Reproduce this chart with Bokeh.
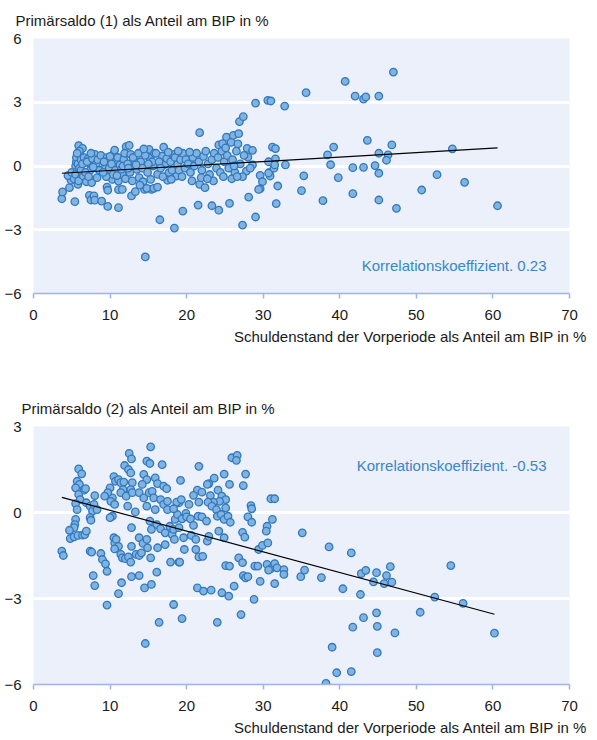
from bokeh.plotting import figure
from bokeh.layouts import column
from bokeh.models import Range1d, FixedTicker, Label, ColumnDataSource, Title
from bokeh.embed import file_html
from bokeh.resources import INLINE

# ---------------- data ----------------
x_ticks = [0, 10, 20, 30, 40, 50, 60, 70]
y_ticks_top = [-6, -3, 0, 3, 6]
y_ticks_bottom = [-6, -3, 0, 3]

title_top = "Primärsaldo (1) als Anteil am BIP in %"
title_bottom = "Primärsaldo (2) als Anteil am BIP in %"
x_title = "Schuldenstand der Vorperiode als Anteil am BIP in %"
corr_top = "Korrelationskoeffizient. 0.23"
corr_bottom = "Korrelationskoeffizient. -0.53"

# Panel 1: debt (x) vs primary balance (1)
debt_top = [
    3.7, 3.8, 4.7, 4.9, 4.5, 5.0, 5.4, 5.8, 5.5, 5.6,
    5.7, 5.9, 6.1, 6.4, 5.3, 5.5, 5.6, 5.8, 6.0, 6.2,
    6.3, 5.9, 6.5, 6.6, 6.0, 5.7, 6.2, 6.4, 7.1, 7.4,
    8.0, 7.4, 6.9, 7.6, 8.3, 7.3, 7.5, 7.9, 8.0, 8.9,
    7.0, 7.7, 8.2, 8.6, 6.8, 7.2, 8.4, 7.8, 8.8, 7.5,
    9.6, 9.7, 9.7, 11.1, 11.1, 11.6, 9.6, 10.5, 9.4, 9.8,
    10.3, 11.1, 11.6, 10.8, 12.1, 12.5, 9.2, 9.9, 10.2, 10.0,
    10.7, 11.0, 11.3, 11.5, 11.8, 10.4, 9.5, 10.9, 12.0, 11.9,
    10.6, 9.1, 11.7, 12.8, 13.3, 14.5, 15.4, 14.6, 12.7, 13.2,
    13.5, 13.8, 14.3, 15.1, 15.2, 15.6, 14.8, 15.7, 15.3, 12.3,
    12.6, 13.0, 13.7, 14.0, 14.2, 14.6, 14.9, 15.5, 12.9, 13.9,
    14.4, 15.8, 12.4, 13.4, 15.0, 16.2, 16.5, 18.4, 19.5, 17.0,
    16.8, 17.2, 17.7, 17.5, 18.3, 18.8, 18.7, 18.0, 16.2, 16.4,
    16.6, 17.4, 17.9, 18.1, 18.5, 19.0, 19.2, 19.5, 19.8, 16.9,
    17.6, 18.9, 19.4, 19.9, 16.0, 21.5, 21.7, 22.4, 23.3, 24.2,
    21.7, 24.2, 24.7, 20.2, 20.5, 20.8, 21.0, 21.3, 21.6, 22.0,
    22.2, 22.5, 22.8, 23.0, 23.3, 23.6, 23.9, 24.1, 24.4, 24.6,
    24.9, 20.4, 21.9, 23.5, 20.7, 22.7, 24.8, 25.6, 27.3, 28.1,
    29.0, 25.2, 25.8, 26.1, 26.7, 26.8, 26.9, 27.4, 27.9, 28.6,
    28.0, 28.6, 27.8, 27.3, 25.3, 25.5, 26.0, 26.3, 26.5, 27.0,
    25.9, 26.6, 27.5, 25.1, 28.3, 26.2, 29.0, 30.6, 31.0, 32.8,
    31.2, 31.6, 31.6, 30.7, 32.9, 29.6, 30.8, 29.9, 29.6, 31.9,
    31.7, 29.4, 30.9, 30.7, 31.4, 31.5, 35.6, 40.7, 42.0, 43.1,
    43.4, 45.1, 47.0, 43.6, 39.2, 38.4, 38.8, 41.7, 43.1, 44.6,
    45.1, 46.3, 46.1, 46.8, 45.1, 54.7, 35.3, 39.8, 52.7, 56.3,
    35.0, 37.8, 41.7, 45.1, 47.4, 50.7, 60.6,
]
balance_top = [
    -1.54, -1.22, -1.02, -0.67, -0.45, -0.30, -1.68, -0.86, 0.00, 0.20,
    -0.24, 0.96, 0.55, 0.83, -0.60, -0.40, 0.40, 0.10, -0.10, 0.30,
    -0.50, -0.70, -0.47, 0.39, 0.70, 0.60, -0.20, 0.10, 0.32, 0.08,
    0.55, -0.20, -0.74, -0.78, -0.55, -1.38, -1.60, -1.41, -1.61, -1.65,
    0.20, 0.35, 0.10, -0.20, -0.30, -0.50, 0.30, -0.05, 0.50, 0.60,
    -0.99, -1.14, -1.90, -1.11, -1.96, -1.10, 0.39, 0.58, 0.00, -0.39,
    -0.63, -0.71, -0.39, 0.24, 0.91, 0.97, 0.20, -0.10, 0.10, 0.45,
    -0.20, 0.40, 0.05, -0.15, 0.30, -0.40, -0.50, -0.45, -0.60, 0.60,
    0.75, -0.30, 0.00, -1.41, -1.21, -1.10, -1.10, -4.28, 0.55, 0.24,
    -0.16, -0.55, -0.74, 0.78, 0.39, 0.00, -1.05, -1.05, -0.63, 0.10,
    -0.30, 0.40, 0.60, 0.20, -0.10, 0.50, -0.30, 0.20, -0.70, -0.90,
    0.80, 0.60, -0.10, 0.05, 0.10, -0.99, -2.53, -2.92, -2.12, 0.89,
    0.47, 0.08, -0.31, -0.67, 0.55, 0.08, -0.47, -0.63, -0.39, 0.20,
    -0.10, 0.35, 0.20, -0.20, 0.40, -0.20, 0.30, 0.60, -0.10, -0.50,
    0.65, 0.70, -0.50, 0.30, 0.60, -1.84, -0.86, -1.02, -1.87, -2.08,
    1.57, 0.99, 1.05, 0.10, -0.30, 0.40, 0.00, 0.60, 0.20, -0.20,
    0.45, 0.70, 0.10, -0.40, 0.30, 0.60, -0.10, 0.40, -0.30, 0.70,
    0.20, 0.65, -0.55, -0.70, -0.70, -0.60, -0.50, -1.76, -2.78, -1.46,
    -2.40, 1.36, 1.11, 1.44, 1.04, 1.52, 2.09, 2.32, 0.83, 0.74,
    0.42, 0.05, -0.24, -0.50, 0.50, -0.10, 0.30, -0.30, 0.70, 0.10,
    -0.60, -0.50, 0.50, 0.85, -0.10, 0.00, 2.96, 3.09, 3.06, 2.82,
    0.89, 0.82, 0.34, 0.20, 0.05, -0.44, -0.31, -0.74, -1.07, -0.94,
    -1.77, -1.10, -0.47, -0.33, -0.10, 0.05, 3.45, 3.98, 3.29, 3.15,
    3.25, 3.29, 4.42, 1.21, 0.89, 0.52, 0.06, -0.08, -0.06, 0.02,
    0.60, 0.52, 0.27, 0.99, -0.34, 0.81, -0.46, -0.55, -0.41, -0.77,
    -1.16, -1.63, -1.30, -1.60, -1.99, -1.13, -1.87,
]

# Panel 2: debt (x) vs primary balance (2)
debt_bottom = [
    5.9, 6.3, 5.7, 6.0, 5.5, 6.6, 6.8, 5.9, 6.1, 5.5,
    5.7, 6.9, 7.4, 7.7, 7.9, 8.0, 8.3, 7.4, 7.5, 5.5,
    5.4, 5.3, 4.7, 4.8, 5.3, 5.8, 6.4, 6.7, 6.9, 3.7,
    3.9, 7.4, 7.6, 7.8, 8.0, 8.8, 9.0, 9.4, 9.6, 10.3,
    10.5, 10.7, 11.1, 10.0, 9.7, 9.3, 10.1, 10.6, 10.3, 10.0,
    11.4, 11.8, 11.7, 11.4, 12.1, 11.9, 12.5, 12.8, 12.4, 12.7,
    12.9, 12.3, 12.7, 12.9, 13.3, 12.8, 10.5, 10.6, 10.8, 11.1,
    10.6, 11.4, 11.6, 12.0, 12.4, 12.7, 12.8, 13.8, 13.4, 13.8,
    14.1, 14.3, 14.8, 15.3, 12.8, 11.5, 11.1, 13.8, 14.5, 15.4,
    16.1, 17.9, 19.0, 15.3, 14.8, 15.2, 16.8, 14.4, 14.8, 15.9,
    16.2, 17.0, 17.4, 14.2, 13.8, 14.4, 15.1, 15.5, 15.7, 14.8,
    15.9, 16.6, 17.0, 17.5, 17.5, 15.2, 16.1, 15.4, 16.6, 17.2,
    17.8, 18.1, 18.5, 18.8, 18.4, 17.2, 16.2, 14.9, 19.0, 18.7,
    25.9, 26.6, 26.5, 21.6, 27.7, 24.9, 23.6, 22.9, 22.7, 25.6,
    27.4, 19.2, 21.4, 22.0, 24.1, 23.1, 24.6, 25.1, 24.3, 23.5,
    22.8, 21.6, 20.9, 19.3, 20.3, 18.3, 23.3, 23.9, 25.1, 28.4,
    28.5, 31.0, 31.5, 19.9, 19.4, 20.0, 20.5, 20.9, 21.5, 22.0,
    22.6, 24.0, 24.5, 24.9, 25.4, 25.7, 28.0, 28.5, 31.2, 30.5,
    30.4, 24.2, 27.3, 27.6, 24.9, 18.3, 19.0, 19.6, 20.6, 21.2,
    22.7, 22.9, 19.7, 21.2, 21.6, 22.1, 19.1, 29.4, 29.9, 30.6,
    26.8, 27.3, 25.1, 25.6, 28.9, 29.3, 30.5, 31.0, 31.5, 31.8,
    30.7, 32.7, 32.7, 34.9, 35.4, 35.1, 27.4, 27.7, 28.0, 29.6,
    31.5, 26.2, 21.4, 22.2, 23.2, 24.6, 25.5, 28.8, 9.6, 16.4,
    18.3, 19.4, 14.6, 24.0, 27.1, 38.6, 41.5, 37.6, 42.8, 43.4,
    44.8, 46.1, 46.6, 44.4, 45.8, 46.8, 40.4, 42.7, 52.4, 54.5,
    56.1, 50.5, 44.8, 43.1, 41.7, 44.9, 47.2, 60.2, 39.0, 44.9,
    39.6, 41.5, 38.2,
]
balance_bottom = [
    1.52, 1.35, 1.09, 0.98, 0.86, 0.78, 0.83, 0.63, 0.45, 0.31,
    0.10, 0.34, 0.22, 0.05, 0.28, 0.59, 0.10, -0.18, -0.27, -0.24,
    -0.42, -0.53, -0.62, -0.91, -0.85, -0.80, -0.79, -0.77, -0.65, -1.35,
    -1.50, -1.35, -1.38, -2.20, -2.55, -1.43, -1.64, -1.79, -2.05, 0.51,
    1.25, 1.09, 1.15, 0.86, 0.69, 0.57, 0.39, 0.28, -0.13, -0.18,
    1.04, 1.06, 0.80, 0.69, 0.57, 1.64, 2.06, 1.87, 1.50, 1.38,
    1.04, 0.22, 0.80, 0.69, 0.02, -0.53, -0.88, -1.06, -0.94, -1.18,
    -1.27, -1.46, -1.58, -1.61, -1.55, -1.73, -1.18, -0.88, -1.46, -1.50,
    -1.41, -1.08, -0.94, -1.58, -2.24, -2.45, -2.83, -2.20, -2.63, -2.51,
    -2.08, -1.73, -1.73, 2.29, 1.79, 1.71, 1.67, 1.33, 1.15, 1.21,
    1.01, 0.92, 0.83, 0.98, 0.69, 0.51, 0.69, 0.74, 0.51, 0.22,
    0.10, 0.45, 0.28, 0.10, 0.39, -0.30, -0.42, -0.59, -0.57, -0.71,
    -0.48, -0.77, -0.24, -0.07, -0.94, -1.12, -1.23, -1.23, 0.34, 0.36,
    1.91, 1.99, 1.82, 1.61, 1.34, 1.34, 1.20, 1.01, 0.98, 0.98,
    0.94, 1.12, 0.78, 0.71, 0.78, 0.59, 0.57, 0.45, 0.39, 0.36,
    0.36, 0.36, 0.60, 0.45, 0.28, 0.13, 0.22, 0.10, 0.16, 0.24,
    0.13, 0.48, 0.48, -0.03, -0.22, -0.15, -0.22, -0.45, -0.13, -0.15,
    -0.30, -0.13, -0.07, -0.24, -0.13, -0.34, -0.15, -0.34, -0.24, -0.48,
    -0.65, -0.65, -0.69, -0.86, -0.88, -0.59, -0.53, -0.88, -0.80, -0.94,
    -1.00, -0.83, -1.29, -1.29, -1.55, -1.53, -1.73, -1.29, -1.15, -1.06,
    -1.58, -1.75, -1.85, -1.87, -1.87, -1.87, -1.81, -1.96, -1.78, -1.93,
    -2.01, -1.99, -2.16, -2.24, -2.01, -0.71, -2.20, -2.28, -2.24, -2.40,
    -2.48, -2.57, -2.63, -2.74, -2.71, -2.80, -2.92, -3.03, -3.23, -3.83,
    -3.21, -3.70, -4.57, -3.83, -3.56, -1.20, -1.41, -2.27, -2.13, -2.02,
    -2.10, -2.20, -1.89, -2.42, -2.48, -2.43, -2.66, -2.86, -2.95, -1.85,
    -3.17, -3.48, -3.50, -3.67, -4.00, -3.97, -4.20, -4.21, -4.70, -4.89,
    -5.59, -5.55, -5.96,
]

# fitted regression lines (end points)
fit_x_top = [3.7, 60.6]
fit_y_top = [-0.34, 0.85]
fit_x_bottom = [3.7, 60.2]
fit_y_bottom = [0.53, -3.55]

# ---------------- style ----------------
FONT = "Liberation Sans"
FS = "15px"
BG = "#ebf0fa"
AXIS_BLUE = "#9fb4e4"
PT_FILL = "#82b2df"
PT_LINE = "#2f79bf"
CORR_COLOR = "#3a86c6"
TEXT = "#1a1a1a"


def panel(xs, ys, fx, fy, ymin, ymax, yticks, gridticks, title, title_offset,
          title_standoff, xlab_standoff, corr, corr_y, height, border_top, frame_h):
    p = figure(width=594, height=height, output_backend="svg", toolbar_location=None,
               x_range=Range1d(0, 70), y_range=Range1d(ymin, ymax),
               min_border_left=33, min_border_right=25,
               min_border_top=border_top,
               min_border_bottom=height - border_top - frame_h)
    p.background_fill_color = BG
    p.border_fill_color = "white"
    p.outline_line_color = None

    p.title.text = title
    p.title.align = "left"
    p.title.offset = title_offset
    p.title.standoff = title_standoff
    p.title.text_font = FONT
    p.title.text_font_size = FS
    p.title.text_font_style = "normal"
    p.title.text_color = TEXT

    p.xgrid.visible = False
    p.ygrid.ticker = FixedTicker(ticks=gridticks)
    p.ygrid.grid_line_color = "white"
    p.ygrid.grid_line_width = 3

    xa = p.xaxis[0]
    xa.ticker = FixedTicker(ticks=x_ticks)
    xa.axis_line_color = AXIS_BLUE
    xa.axis_line_width = 1.5
    xa.major_tick_line_color = AXIS_BLUE
    xa.major_tick_line_width = 1.5
    xa.major_tick_out = 5
    xa.major_tick_in = 0
    xa.minor_tick_line_color = None
    xa.major_label_text_font = FONT
    xa.major_label_text_font_size = FS
    xa.major_label_text_color = TEXT
    xa.major_label_standoff = 11

    ya = p.yaxis[0]
    ya.ticker = FixedTicker(ticks=yticks)
    ya.axis_line_color = None
    ya.major_tick_line_color = None
    ya.minor_tick_line_color = None
    ya.major_tick_out = 0
    ya.major_tick_in = 0
    ya.major_label_text_font = FONT
    ya.major_label_text_font_size = FS
    ya.major_label_text_color = TEXT
    ya.major_label_standoff = 12

    src = ColumnDataSource(dict(x=xs, y=ys))
    p.scatter("x", "y", source=src, size=7.5, fill_color=PT_FILL,
              line_color=PT_LINE, line_width=1.3)
    p.line(fx, fy, line_color="black", line_width=1.2)

    p.add_layout(Label(x=67.0, y=corr_y, text=corr, text_font=FONT,
                       text_font_size=FS, text_color=CORR_COLOR,
                       text_baseline="middle", text_align="right"))
    p.add_layout(Title(text=x_title, align="right", offset=-18, standoff=xlab_standoff,
                       text_font=FONT, text_font_size=FS, text_font_style="normal",
                       text_color=TEXT), "below")
    return p


# the trailing empty line lifts the first title higher above its plot area
p1 = panel(debt_top, balance_top, fit_x_top, fit_y_top, -6, 6, y_ticks_top, [-3, 0, 3],
           title_top + "\n", -18, -15, 7, corr_top, -4.68,
           height=348, border_top=38, frame_h=255)
p2 = panel(debt_bottom, balance_bottom, fit_x_bottom, fit_y_bottom, -6, 3, y_ticks_bottom, [-3, 0],
           title_bottom, -12, 19, 7, corr_bottom, 1.64,
           height=391, border_top=78, frame_h=258)

layout = column(p1, p2, spacing=0)
open("out.html", "w").write(file_html(layout, INLINE))
